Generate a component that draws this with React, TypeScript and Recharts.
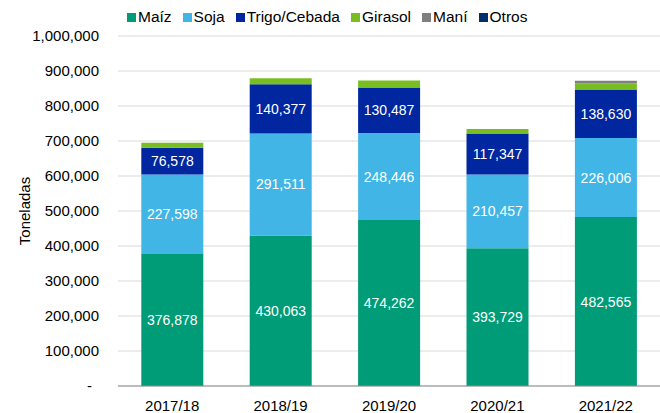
import { BarChart, Bar, XAxis, YAxis, CartesianGrid, LabelList } from "recharts";

const categories = ["2017/18", "2018/19", "2019/20", "2020/21", "2021/22"];
const maiz = [376878, 430063, 474262, 393729, 482565];
const soja = [227598, 291511, 248446, 210457, 226006];
const trigo = [76578, 140377, 130487, 117347, 138630];
const girasol = [14000, 17000, 20000, 13000, 18000];
const mani = [0, 0, 0, 0, 7000];
const otros = [0, 0, 0, 0, 0];
const yTicks = [0, 100000, 200000, 300000, 400000, 500000, 600000, 700000, 800000, 900000, 1000000];

const series = [
  { key: "maiz", name: "Maíz", color: "#009B77", labels: true },
  { key: "soja", name: "Soja", color: "#41B6E6", labels: true },
  { key: "trigo", name: "Trigo/Cebada", color: "#0027A0", labels: true },
  { key: "girasol", name: "Girasol", color: "#78BE20", labels: false },
  { key: "mani", name: "Maní", color: "#7F7F7F", labels: false },
  { key: "otros", name: "Otros", color: "#002F6C", labels: false },
];

const data = categories.map((c, i) => ({
  name: c,
  maiz: maiz[i],
  soja: soja[i],
  trigo: trigo[i],
  girasol: girasol[i],
  mani: mani[i],
  otros: otros[i],
}));

const FONT = "'Liberation Sans', Arial, sans-serif";
const fmt = (v: number) => v.toLocaleString("en-US");

const YTick = ({ x, y, payload }: any) => (
  <text
    x={payload.value === 0 ? x - 7 : x}
    y={y}
    dy={5}
    textAnchor="end"
    fontSize={15}
    fontFamily={FONT}
    fill="#000"
  >
    {payload.value === 0 ? "-" : fmt(payload.value)}
  </text>
);

export default function App() {
  return (
    <div style={{ position: "absolute", left: 0, top: 0, width: 660, height: 413, background: "#fff", fontFamily: FONT }}>
      {/* Legend */}
      <div
        style={{
          position: "absolute",
          left: 127,
          top: 8,
          display: "flex",
          alignItems: "center",
          gap: 11,
          fontSize: 15.5,
          lineHeight: "18px",
          color: "#000",
          zIndex: 2,
        }}
      >
        {series.map((s) => (
          <div key={s.key} style={{ display: "flex", alignItems: "center", gap: 2 }}>
            <div style={{ width: 9, height: 9, background: s.color }} />
            <span>{s.name}</span>
          </div>
        ))}
      </div>

      <BarChart
        width={660}
        height={413}
        data={data}
        margin={{ top: 36, right: 0, bottom: 0, left: 0 }}
        barCategoryGap="21.5%"
      >
        <CartesianGrid vertical={false} stroke="#D9D9D9" />
        <XAxis
          dataKey="name"
          height={27}
          tickLine={false}
          tickSize={0}
          tickMargin={14}
          axisLine={{ stroke: "#8C8C8C" }}
          tick={{ fontSize: 15, fontFamily: FONT, fill: "#000" }}
        />
        <YAxis
          width={118}
          domain={[0, 1000000]}
          ticks={yTicks}
          interval={0}
          axisLine={false}
          tickLine={false}
          tickSize={0}
          tickMargin={19}
          tick={<YTick />}
          label={{
            content: ({ viewBox }: any) => (
              <text
                x={24}
                y={viewBox.y + viewBox.height / 2}
                transform={`rotate(-90, 24, ${viewBox.y + viewBox.height / 2})`}
                textAnchor="middle"
                dominantBaseline="central"
                fontSize={15}
                fontFamily={FONT}
                fill="#000"
              >
                Toneladas
              </text>
            ),
          }}
        />
        {series.map((s) => (
          <Bar key={s.key} dataKey={s.key} name={s.name} stackId="a" fill={s.color} isAnimationActive={false}>
            {s.labels && (
              <LabelList
                dataKey={s.key}
                position="center"
                formatter={(v: any) => fmt(Number(v))}
                fill="#fff"
                fontSize={14}
                fontFamily={FONT}
              />
            )}
          </Bar>
        ))}
      </BarChart>
    </div>
  );
}
